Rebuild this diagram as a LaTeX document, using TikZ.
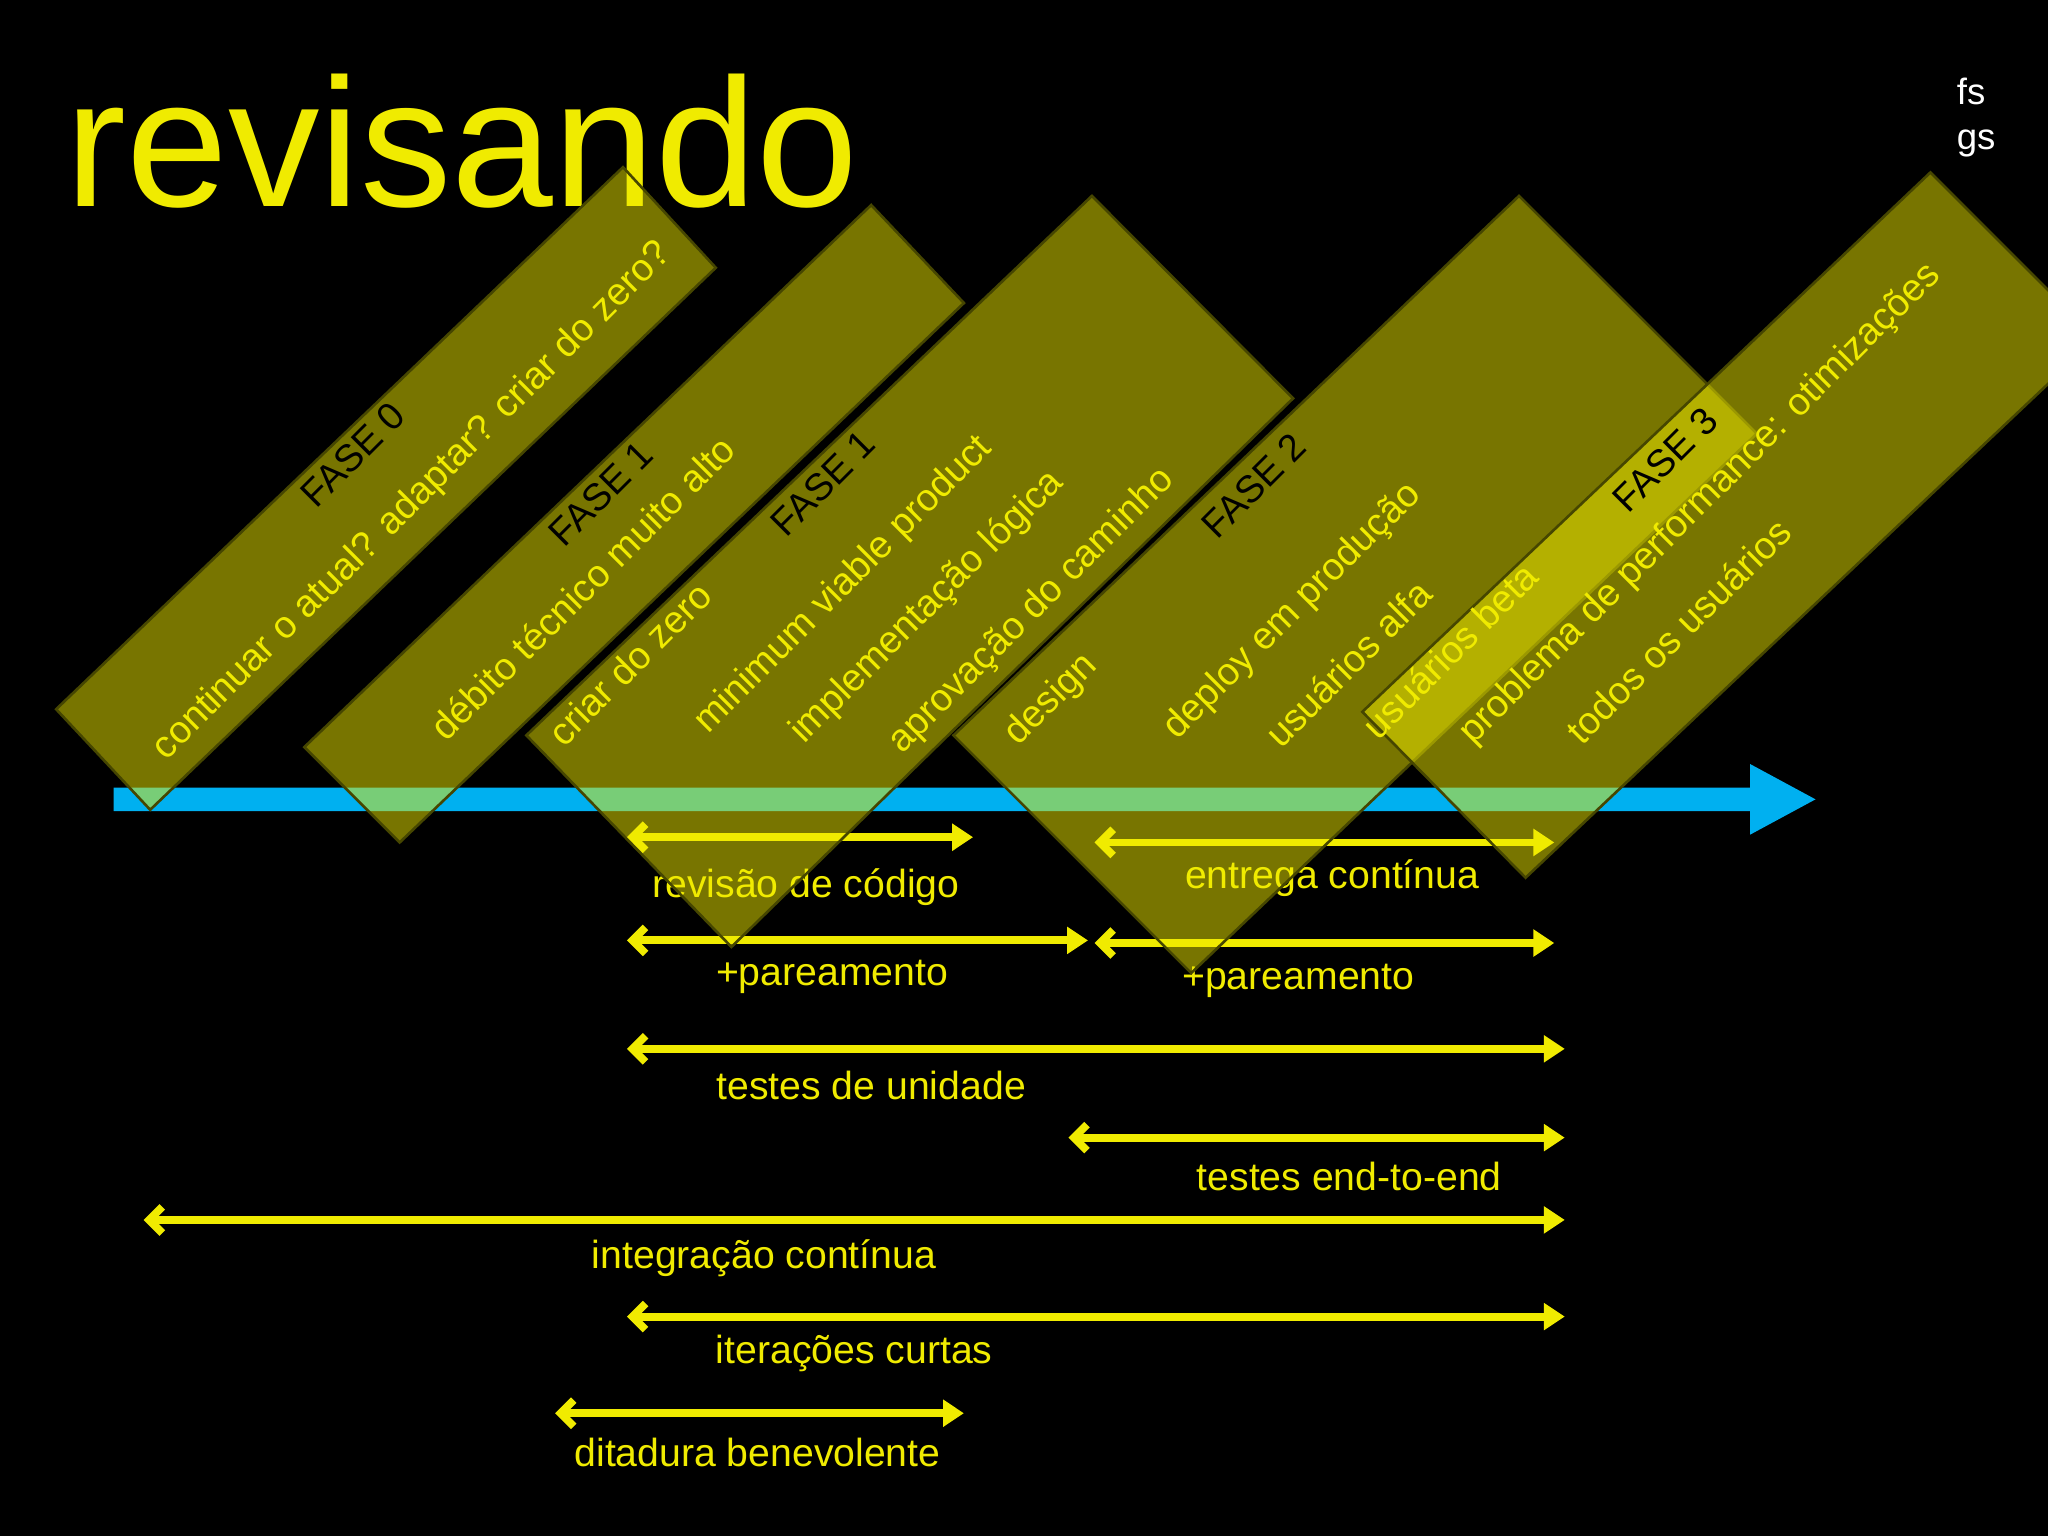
\documentclass[tikz,border=0pt]{standalone}
\usepackage{fontspec}
\setmainfont{Liberation Sans}
\usetikzlibrary{arrows.meta}
\definecolor{yel}{RGB}{240,235,0}
\definecolor{blu}{RGB}{0,176,240}
\tikzset{
 box/.style={fill=yel,fill opacity=0.5,draw={rgb,255:red,70;green,70;blue,0},line width=1pt},
 darr/.style={yel,line width=3pt,{Straight Barb[length=5pt,width=10pt]}-{Triangle[length=8pt,width=10pt]}},
 lab/.style={text=yel,font=\fontsize{15}{17}\selectfont},
 rt/.style={rotate=45,text=yel,font=\fontsize{14.6}{16}\selectfont},
 rk/.style={rotate=45,text=black,font=\fontsize{14.6}{16}\selectfont}
}
\begin{document}
\begin{tikzpicture}[x=0.5pt,y=-0.5pt]
\fill[black] (0,0) rectangle (1568,1176);
\useasboundingbox (0,0) rectangle (1568,1176);
\node[text=yel,font=\fontsize{70}{72}\selectfont] (title) at (354,108) {revisando};
\node[text=white,font=\fontsize{14}{17}\selectfont,align=left] (fs) at (1513,90) {fs\\gs};
% blue timeline
\fill[blu] (87,603) -- (1340,603) -- (1340,585) -- (1390,612) -- (1340,639) -- (1340,621) -- (87,621) -- cycle;
% arrows
\coordinate (a1) at (480,641); \coordinate (b1) at (745,641);
\coordinate (a2) at (480,720); \coordinate (b2) at (833,720);
\coordinate (a3) at (838,645); \coordinate (b3) at (1190,645);
\coordinate (a4) at (838,722); \coordinate (b4) at (1190,722);
\coordinate (a5) at (480,803); \coordinate (b5) at (1198,803);
\coordinate (a6) at (818,871); \coordinate (b6) at (1198,871);
\coordinate (a7) at (110,934); \coordinate (b7) at (1198,934);
\coordinate (a8) at (480,1008); \coordinate (b8) at (1198,1008);
\coordinate (a9) at (425,1082); \coordinate (b9) at (738,1082);
\foreach \i in {1,...,9}{\draw[darr] (a\i) -- (b\i);}
\node[lab] (l1) at (617,679) {revisão de código};
\node[lab] (l2) at (637,748) {+pareamento};
\node[lab] (l3) at (1020,672) {entrega contínua};
\node[lab] (l4) at (994,751) {+pareamento};
\node[lab] (l5) at (667,831) {testes de unidade};
\node[lab] (l6) at (1033,901) {testes end-to-end};
\node[lab] (l7) at (585,963) {integração contínua};
\node[lab] (l8) at (654,1036) {iterações curtas};
\node[lab] (l9) at (580,1112) {ditadura benevolente};
% boxes
\path[box] (43,543) -- (477,128) -- (548,205) -- (115,620) -- cycle;
\path[box] (233,572) -- (667,157) -- (738,232) -- (306,645) -- cycle;
\path[box] (403,563) -- (836,150) -- (990,305) -- (560,725) -- cycle;
\path[box] (730,563) -- (1163,150) -- (1345,332) -- (912,745) -- cycle;
\path[box] (1043,545) -- (1478,132) -- (1605,259) -- (1168,672) -- cycle;
% box texts
\node[rk] (f0) at (270,348) {FASE 0};
\node[rt] (t0) at (316,384) {continuar o atual? adaptar? criar do zero?};
\node[rk] (f1) at (460,378) {FASE 1};
\node[rt] (t1) at (446,450) {débito técnico muito alto};
\node[rk] (f1b) at (630,370) {FASE 1};
\node[rt] (t2) at (482,508) {criar do zero};
\node[rt] (t3) at (646,448) {minimum viable product};
\node[rt] (t4) at (710,465) {implementação lógica};
\node[rt] (t5) at (790,468) {aprovação do caminho};
\node[rt] (t6) at (805,536) {design};
\node[rk] (f2) at (960,372) {FASE 2};
\node[rt] (t7) at (990,468) {deploy em produção};
\node[rt] (t8) at (1032,508) {usuários alfa};
\node[rk] (f3) at (1275,352) {FASE 3};
\node[rt] (t9) at (1110,498) {usuários beta};
\node[rt] (t10) at (1302,386) {problema de performance: otimizações};
\node[rt] (t11) at (1285,483) {todos os usuários};
\end{tikzpicture}
\end{document}
